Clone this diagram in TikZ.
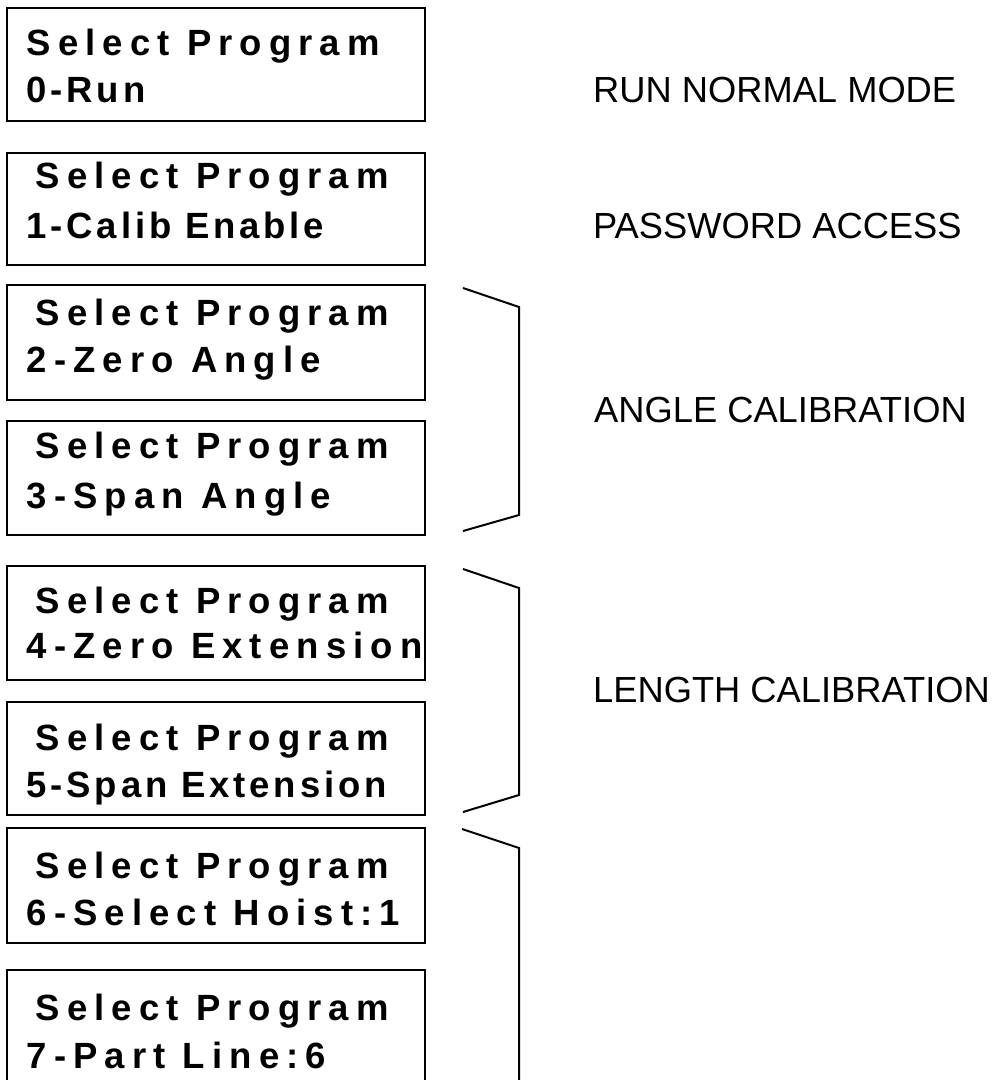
\documentclass[tikz,border=0pt]{standalone}
\usepackage{fontspec}
\setmainfont{Liberation Sans}
\newfontfamily\widefont[LetterSpace=19.5]{Liberation Sans Bold}
\newfontfamily\narrowfont[LetterSpace=10.5]{Liberation Sans Bold}
\newfontfamily\labelfont{Liberation Sans}
\begin{document}
\begin{tikzpicture}[x=1pt,y=-1pt,
  box/.style={draw=black,line width=2pt,minimum width=418pt,inner sep=0pt,outer sep=0pt},
  wline/.style={anchor=base west,inner sep=0pt,font=\widefont\fontsize{36.5}{44}\selectfont},
  nline/.style={anchor=base west,inner sep=0pt,font=\narrowfont\fontsize{36.5}{44}\selectfont},
  lbl/.style={anchor=base west,inner sep=0pt,font=\labelfont\fontsize{36.3}{44}\selectfont},
  brk/.style={draw=black,line width=2pt,line join=miter}]
\clip (0,0) rectangle (993,1080);
\fill[white] (0,0) rectangle (993,1080);
% boxes
\node[box,minimum height=113pt] (b0) at (216,64.5) {};
\node[box,minimum height=112pt] (b1) at (216,209) {};
\node[box,minimum height=115pt] (b2) at (216,342.5) {};
\node[box,minimum height=114pt] (b3) at (216,478) {};
\node[box,minimum height=114pt] (b4) at (216,623) {};
\node[box,minimum height=113pt] (b5) at (216,758.5) {};
\node[box,minimum height=115pt] (b6) at (216,885.5) {};
\node[box,minimum height=115pt] (b7) at (216,1027.5) {};
% box texts
\node[wline] (t0a) at (26.5,55) {Select Program};
\node[nline] (t0b) at (26.5,102) {0-Run};
\node[wline] (t1a) at (35.5,188) {Select Program};
\node[nline] (t1b) at (26.5,238) {1-Calib Enable};
\node[wline] (t2a) at (35.5,325) {Select Program};
\node[wline] (t2b) at (26.5,372) {2-Zero Angle};
\node[wline] (t3a) at (35.5,458) {Select Program};
\node[wline] (t3b) at (26.5,508) {3-Span Angle};
\node[wline] (t4a) at (35.5,613) {Select Program};
\node[wline] (t4b) at (26.5,658) {4-Zero Extension};
\node[wline] (t5a) at (35.5,750) {Select Program};
\node[nline] (t5b) at (26.5,797) {5-Span Extension};
\node[wline] (t6a) at (35.5,878) {Select Program};
\node[wline] (t6b) at (26.5,925) {6-Select Hoist:1};
\node[wline] (t7a) at (35.5,1020) {Select Program};
\node[wline] (t7b) at (26.5,1068) {7-Part Line:6};
% labels
\node[lbl] (l0) at (593,102) {RUN NORMAL MODE};
\node[lbl] (l1) at (593,238) {PASSWORD ACCESS};
\node[lbl] (l2) at (594,422) {ANGLE CALIBRATION};
\node[lbl] (l3) at (593,702) {LENGTH CALIBRATION};
% brackets
\draw[brk] (463,288) -- (519,307) -- (519,515) -- (463,531);
\draw[brk] (463,569) -- (519,588) -- (519,795) -- (463,812);
\draw[brk] (462,829) -- (519,848) -- (519,1090);
\end{tikzpicture}
\end{document}
